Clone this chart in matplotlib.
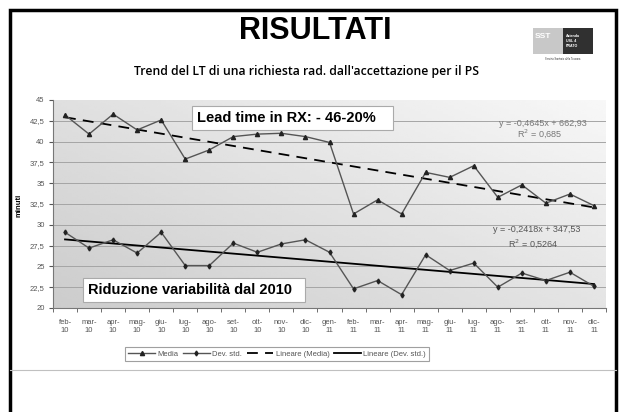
import matplotlib.pyplot as plt
import numpy as np
from matplotlib.patches import Rectangle
from matplotlib.lines import Line2D

# Dati
mesi = ['feb-\n10', 'mar-\n10', 'apr-\n10', 'mag-\n10', 'giu-\n10', 'lug-\n10', 'ago-\n10',
        'set-\n10', 'ott-\n10', 'nov-\n10', 'dic-\n10', 'gen-\n11', 'feb-\n11', 'mar-\n11',
        'apr-\n11', 'mag-\n11', 'giu-\n11', 'lug-\n11', 'ago-\n11', 'set-\n11', 'ott-\n11',
        'nov-\n11', 'dic-\n11']
media = [43.2, 40.9, 43.3, 41.4, 42.6, 37.9, 39.0, 40.6, 40.9, 41.0, 40.6, 39.9,
         31.3, 33.0, 31.3, 36.3, 35.7, 37.1, 33.3, 34.8, 32.6, 33.7, 32.3]
dev_std = [29.1, 27.2, 28.2, 26.6, 29.1, 25.1, 25.1, 27.8, 26.7, 27.7, 28.2, 26.7,
           22.3, 23.3, 21.6, 26.4, 24.5, 25.4, 22.5, 24.2, 23.3, 24.3, 22.6]
y_ticks = [20, 22.5, 25, 27.5, 30, 32.5, 35, 37.5, 40, 42.5, 45]

W, H = 622, 412
fig = plt.figure(figsize=(6.22, 4.12), dpi=100)
plt.rcParams['font.family'] = ['Liberation Sans', 'DejaVu Sans']

# cornice della slide
fig.add_artist(Rectangle((10 / W, -0.05), 606 / W, 1.05 - 10 / H, transform=fig.transFigure,
                         fill=False, lw=2.5, ec='black'))
fig.add_artist(Line2D([10 / W, 616 / W], [1 - 370 / H] * 2, transform=fig.transFigure,
                      color='#c0c0c0', lw=0.8))

fig.text(315 / W, 1 - 31 / H, 'RISULTATI', ha='center', va='center', fontsize=22, weight='bold')
fig.text(306 / W, 1 - 72 / H, "Trend del LT di una richiesta rad. dall'accettazione per il PS",
         ha='center', va='center', fontsize=8.8, family=['Open Sans', 'DejaVu Sans'], weight='semibold')

# logo (semplificato)
fig.add_artist(Rectangle((533 / W, 1 - 54 / H), 30 / W, 26 / H, transform=fig.transFigure,
                         fc='#c8c8c8', ec='none'))
fig.add_artist(Rectangle((563 / W, 1 - 54 / H), 30 / W, 26 / H, transform=fig.transFigure,
                         fc='#303030', ec='none'))
fig.text(543 / W, 1 - 36 / H, 'SST', color='white', fontsize=6, weight='bold', ha='center', va='center')
fig.text(566 / W, 1 - 41 / H, 'Azienda\nUSL 4\nPRATO', color='white', fontsize=2.6, weight='bold',
         ha='left', va='center', linespacing=1.3)
fig.text(563 / W, 1 - 59 / H, 'Servizio Sanitario della Toscana', fontsize=1.8, ha='center', va='center',
         color='#333333')

ax = fig.add_axes([53 / W, 1 - 308 / H, 553 / W, 208 / H])
x = np.arange(len(mesi))

# sfondo sfumato dell'area del grafico
gy, gx = np.mgrid[0:1:100j, 0:1:100j]
grad = 0.80 + 0.17 * (0.55 * gx + 0.45 * (1 - gy))
ax.imshow(grad, extent=[0, 1, 0, 1], transform=ax.transAxes, cmap='gray', vmin=0, vmax=1,
          aspect='auto', zorder=0, interpolation='bilinear')

for t in y_ticks[1:-1]:
    ax.axhline(t, color='#a5a5a5', lw=0.7, zorder=1)

ax.plot(x, media, color='#555555', lw=1.0, marker='^', ms=3, mfc='#222222', mec='#222222', zorder=3,
        label='Media')
ax.plot(x, dev_std, color='#555555', lw=1.0, marker='d', ms=2.5, mfc='#222222', mec='#222222', zorder=3,
        label='Dev. std.')

pm = np.polyfit(x, media, 1)
pd_ = np.polyfit(x, dev_std, 1)
ax.plot(x, np.polyval(pm, x), color='black', lw=1.3, ls=(0, (6, 4)), zorder=2, label='Lineare (Media)')
ax.plot(x, np.polyval(pd_, x), color='black', lw=1.3, zorder=2, label='Lineare (Dev. std.)')

ax.set_xlim(-0.5, len(mesi) - 0.5)
ax.set_ylim(20, 45)
ax.set_yticks(y_ticks)
ax.set_yticklabels([f'{t:g}'.replace('.', ',') for t in y_ticks])
ax.set_xticks(x)
ax.set_xticklabels(mesi)
ax.set_xticks(np.arange(-0.5, len(mesi), 1), minor=True)
ax.tick_params(axis='x', which='major', length=0, pad=8, labelsize=5.5, labelcolor='#555555')
ax.tick_params(axis='x', which='minor', length=3, color='#555555')
ax.tick_params(axis='y', length=3, color='#555555', labelsize=5.5, labelcolor='#555555', pad=3)
for s in ['top', 'right']:
    ax.spines[s].set_visible(False)
ax.spines['left'].set_color('#777777')
ax.spines['bottom'].set_color('#777777')
fig.text(19 / W, 1 - 205 / H, 'minuti', fontsize=5.5, weight='bold', rotation=90, ha='center', va='center')

box = dict(boxstyle='square,pad=0.35', fc='white', ec='#aaaaaa', lw=0.8)
fig.text(197 / W, 1 - 118 / H, 'Lead time in RX: - 46-20%   ', fontsize=10.5, weight='bold',
         va='center', ha='left', bbox=box, zorder=5)
fig.text(88 / W, 1 - 290 / H, 'Riduzione variabilità dal 2010  ', fontsize=10.5, weight='bold',
         va='center', ha='left', bbox=box, zorder=5)

fig.text(543 / W, 1 - 123 / H, 'y = -0,4645x + 662,93', fontsize=6.5, color='#777777', ha='center',
         va='center')
fig.text(540 / W, 1 - 134 / H, 'R$^2$ = 0,685', fontsize=6.5, color='#777777', ha='center', va='center')
fig.text(537 / W, 1 - 229 / H, 'y = -0,2418x + 347,53', fontsize=6.5, color='#555555', ha='center',
         va='center')
fig.text(533 / W, 1 - 244 / H, 'R$^2$ = 0,5264', fontsize=6.5, color='#555555', ha='center', va='center')

leg = fig.legend(loc='center', bbox_to_anchor=(277 / W, 1 - 354 / H), ncol=4, fontsize=5.5,
                 frameon=True, fancybox=False, edgecolor='#888888', handlelength=3.5,
                 columnspacing=0.6, handletextpad=0.3, borderpad=0.4, labelcolor='#555555')
leg.get_frame().set_linewidth(0.8)

fig.savefig('out.png', dpi=100)
